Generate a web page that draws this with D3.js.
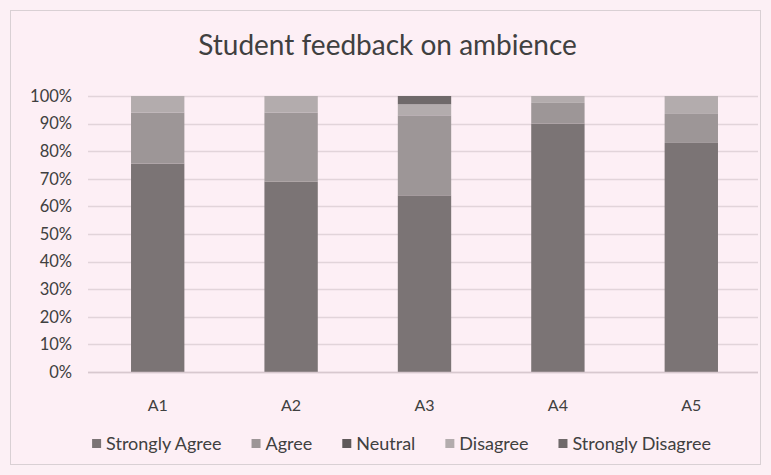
<!DOCTYPE html>
<html>
<head>
<meta charset="utf-8">
<script src="https://cdn.jsdelivr.net/npm/d3@7"></script>
<style>
  body { margin: 0; background: #fff; }
  text { font-family: Lato, "Open Sans", sans-serif; }
</style>
</head>
<body>
<div id="chart"></div>
<script>
// chart values (percent of responses)
var categories = ['A1', 'A2', 'A3', 'A4', 'A5'];
var seriesNames = ['Strongly Agree', 'Agree', 'Neutral', 'Disagree', 'Strongly Disagree'];
var stronglyAgree = [75.5, 69, 64, 90, 83];
var agree = [18.5, 25, 29, 7.5, 10.5];
var neutral = [0, 0, 0, 0, 0];
var disagree = [6, 6, 4, 2.5, 6.5];
var stronglyDisagree = [0, 0, 3, 0, 0];
var yTicks = [0, 10, 20, 30, 40, 50, 60, 70, 80, 90, 100];

var seriesColors = ['#7b7475', '#9d9697', '#5f595a', '#b3acad', '#6f696a'];

var W = 771, H = 475;
var margin = { left: 91, right: 13, top: 96, bottom: 103 };

var svg = d3.select('#chart').append('svg')
    .attr('width', W)
    .attr('height', H);

// page + chart frame
svg.append('rect').attr('width', W).attr('height', H).attr('fill', '#fcf0f5');
svg.append('rect')
    .attr('x', 10.5).attr('y', 10.5)
    .attr('width', W - 21).attr('height', H - 21)
    .attr('fill', '#fdeff5')
    .attr('stroke', '#d9d0d4');

svg.append('text')
    .attr('x', W / 2 + 2)
    .attr('y', 55)
    .attr('text-anchor', 'middle')
    .attr('font-size', 28)
    .attr('fill', '#404040')
    .text('Student feedback on ambience');

var rows = categories.map(function (c, i) {
  return {
    cat: c,
    'Strongly Agree': stronglyAgree[i],
    'Agree': agree[i],
    'Neutral': neutral[i],
    'Disagree': disagree[i],
    'Strongly Disagree': stronglyDisagree[i]
  };
});

var x = d3.scaleBand()
    .domain(categories)
    .range([margin.left, W - margin.right])
    .paddingInner(0.6)
    .paddingOuter(0.3);

var y = d3.scaleLinear()
    .domain([0, 100])
    .range([H - margin.bottom, margin.top]);

// gridlines
svg.append('g').selectAll('line')
    .data(yTicks).enter().append('line')
    .attr('x1', margin.left - 3)
    .attr('x2', W - margin.right)
    .attr('y1', function (d) { return Math.round(y(d)) + 0.5; })
    .attr('y2', function (d) { return Math.round(y(d)) + 0.5; })
    .attr('stroke', '#e2d4da')
    .attr('stroke-width', 1.5);

// y axis labels
var yAxis = d3.axisLeft(y)
    .tickValues(yTicks)
    .tickFormat(function (d) { return d + '%'; })
    .tickSize(0)
    .tickPadding(16);
var gy = svg.append('g')
    .attr('transform', 'translate(' + (margin.left - 3) + ',0)')
    .call(yAxis);
gy.select('.domain').remove();
gy.selectAll('text')
    .attr('font-size', 16.5)
    .attr('fill', '#404040')
    .style('font-family', 'Lato, sans-serif');

// stacked bars
var stack = d3.stack().keys(seriesNames);
var layers = stack(rows);

svg.append('g').selectAll('g')
    .data(layers).enter().append('g')
    .attr('fill', function (d, i) { return seriesColors[i]; })
    .selectAll('rect')
    .data(function (d) { return d; }).enter().append('rect')
    .attr('x', function (d) { return x(d.data.cat); })
    .attr('width', x.bandwidth())
    .attr('y', function (d) { return y(d[1]); })
    .attr('height', function (d) { return y(d[0]) - y(d[1]); });

// x axis
var xAxis = d3.axisBottom(x).tickSize(0).tickPadding(28);
var gx = svg.append('g')
    .attr('transform', 'translate(0,' + (H - margin.bottom) + ')')
    .call(xAxis);
gx.select('.domain')
    .attr('stroke', '#d8c8cf')
    .attr('stroke-width', 1.5)
    .attr('d', 'M' + (margin.left - 3) + ',0.5H' + (W - margin.right));
gx.selectAll('text')
    .attr('font-size', 16)
    .attr('fill', '#404040')
    .style('font-family', 'Lato, sans-serif');

// legend
var legend = svg.append('g');
var lx = 0;
var itemGap = 30;
seriesNames.forEach(function (name, i) {
  var item = legend.append('g').attr('transform', 'translate(' + lx + ',0)');
  item.append('rect')
      .attr('x', 0).attr('y', -11)
      .attr('width', 9).attr('height', 9)
      .attr('fill', seriesColors[i]);
  var t = item.append('text')
      .attr('x', 14)
      .attr('y', 0)
      .attr('font-size', 18)
      .attr('fill', '#404040')
      .text(name);
  lx += 14 + t.node().getComputedTextLength() + itemGap;
});
var legendWidth = lx - itemGap;
legend.attr('transform', 'translate(' + ((W - legendWidth) / 2 + 16) + ',450)');
</script>
</body>
</html>
